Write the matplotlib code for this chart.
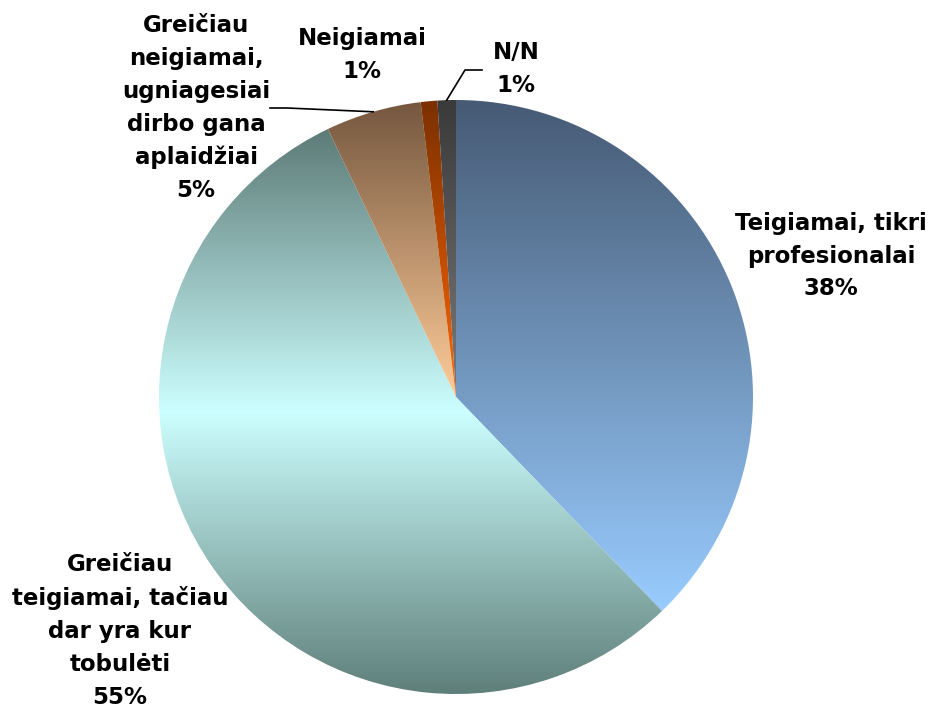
import numpy as np
import matplotlib
matplotlib.use("Agg")
from matplotlib import pyplot as plt
from matplotlib.colors import LinearSegmentedColormap

# данные диаграммы
labels = ["Teigiamai, tikri\nprofesionalai",
          "Greičiau\nteigiamai, tačiau\ndar yra kur\ntobulėti",
          "Greičiau\nneigiamai,\nugniagesiai\ndirbo gana\naplaidžiai",
          "Neigiamai",
          "N/N"]
values = [37.8, 55.1, 5.2, 0.9, 1.0]
shown_pct = [38, 55, 5, 1, 1]

# градиенты (верх -> низ) для каждого сектора
grads = [["#465a74", "#99ccff"],
         ["#5d7b77", "#ccffff", "#5f7f7a"],
         ["#75573f", "#ffcc99"],
         ["#7a3000", "#ff6600"],
         ["#3a3a3a", "#7a7a7a"]]

W, H = 933, 708
cx, cy, R = 456, H - 397, 297

fig = plt.figure(figsize=(W / 100, H / 100), dpi=100)
ax = fig.add_axes([0, 0, 1, 1])

wedges, _ = ax.pie(values, startangle=90, counterclock=False, center=(cx, cy),
                   radius=R, wedgeprops=dict(linewidth=0))
ax.set_xlim(0, W)
ax.set_ylim(0, H)
ax.set_aspect("equal")
ax.axis("off")

grad = np.linspace(0, 1, 256).reshape(-1, 1)
for w, cols in zip(wedges, grads):
    ext = w.get_path().get_extents()
    cmap = LinearSegmentedColormap.from_list("g", cols)
    im = ax.imshow(grad, cmap=cmap, aspect="auto", origin="upper",
                   extent=[ext.x0, ext.x1, ext.y0, ext.y1], zorder=2,
                   interpolation="bilinear")
    im.set_clip_path(w)
    w.set_facecolor("none")

ax.set_xlim(0, W)
ax.set_ylim(0, H)

font = dict(fontsize=16.5, fontweight="bold", ha="center", va="center",
            linespacing=1.55, family="DejaVu Sans")

# позиции подписей (в пикселях, y сверху)
label_pos = [(831, 256), (120, 631), (196, 108), (362, 55), (516, 69)]
for lab, p, (x, y) in zip(labels, shown_pct, label_pos):
    ax.text(x, H - y, f"{lab}\n{p}%", **font)

# выноски для маленьких секторов
cum = np.cumsum([0] + values)
total = cum[-1]


def arc_point(i):
    mid = (cum[i] + cum[i + 1]) / 2 / total * 360
    a = np.deg2rad(90 - mid)
    return cx + R * np.cos(a), cy + R * np.sin(a)


px, py = arc_point(2)
ax.plot([270, 287, px], [H - 108, H - 108, py], color="black", lw=1.2, zorder=3)
px, py = arc_point(4)
ax.plot([482, 465, px], [H - 70, H - 70, py], color="black", lw=1.2, zorder=3)

fig.savefig("out.png", dpi=100)
